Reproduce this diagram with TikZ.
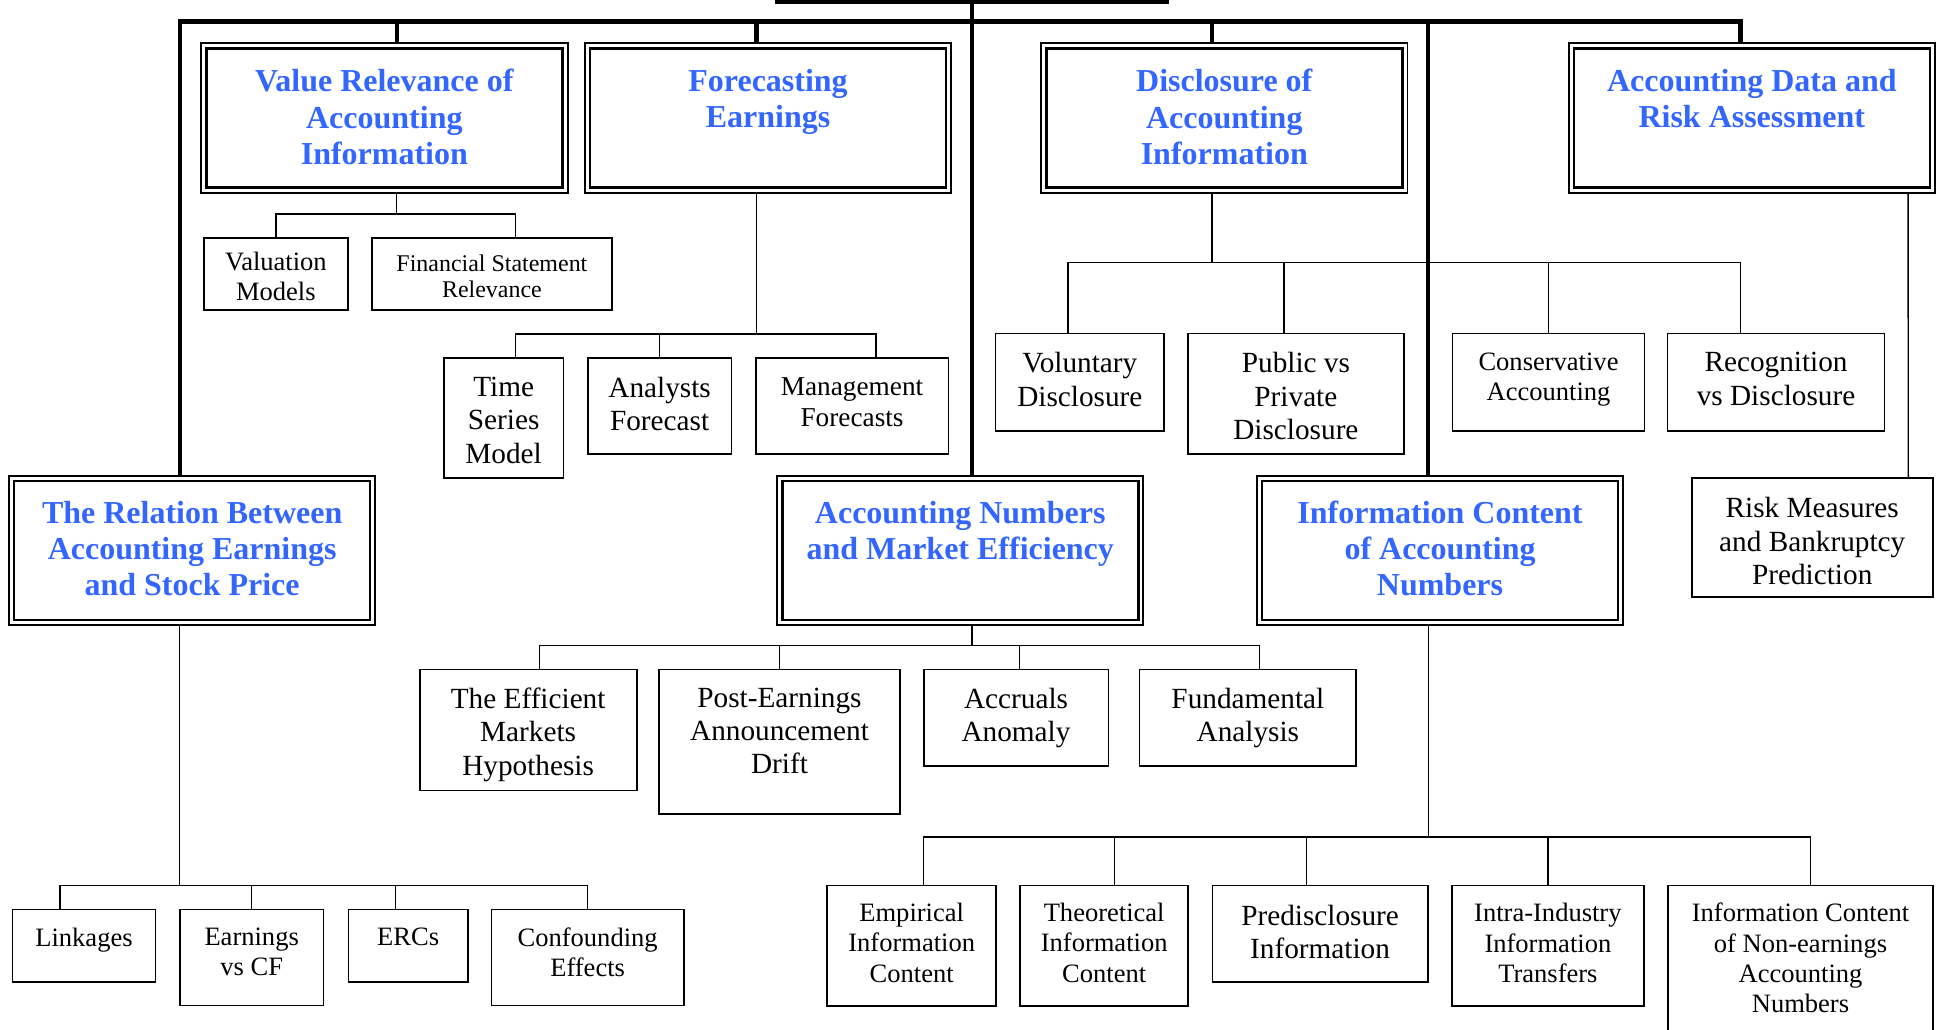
\documentclass[tikz,border=0pt]{standalone}
\usepackage{fontspec}
\setmainfont{Liberation Serif}
\usepackage{tikz}
\usetikzlibrary{positioning}

\definecolor{topicblue}{RGB}{51,102,255}

\tikzset{
  trunk/.style={line width=1.8pt},
  link/.style={line width=0.55pt},
  topic/.style={draw, line width=0.8pt, inner sep=0pt,
    minimum width=147.75pt, minimum height=60.25pt,
    path picture={\draw[line width=1.05pt]
      ([shift={(2.1pt,-2.1pt)}]path picture bounding box.north west) rectangle
      ([shift={(-2.1pt,2.1pt)}]path picture bounding box.south east);}},
  topictext/.style={inner sep=0pt, align=center, text=topicblue,
    font=\bfseries\fontsize{12.9}{14.65}\selectfont},
  leaf/.style 2 args={draw, line width=0.7pt, inner sep=0pt,
    minimum width=#1, minimum height=#2},
  bigtext/.style={inner sep=0pt, align=center, font=\fontsize{11.8}{13.45}\selectfont},
  midtext/.style={inner sep=0pt, align=center, font=\fontsize{10.7}{12.25}\selectfont},
  smalltext/.style={inner sep=0pt, align=center, font=\fontsize{9.66}{10.6}\selectfont},
}

\begin{document}
\begin{tikzpicture}[x=0.5pt,y=-0.5pt]
  \useasboundingbox (0,0) rectangle (1568,830);
  \clip (0,0) rectangle (1568,830);
  %%
  % Node: vr
  \node[topic] (vr) at (310,95.25) {};
  \node[topictext, below=10.6pt of vr.north] (vr-t) {Value Relevance of\\Accounting\\Information};
  % Node: fe
  \node[topic] (fe) at (619.5,95.25) {};
  \node[topictext, below=10.6pt of fe.north] (fe-t) {Forecasting\\Earnings};
  % Node: di
  \node[topic] (di) at (987.5,95.25) {};
  \node[topictext, below=10.6pt of di.north] (di-t) {Disclosure of\\Accounting\\Information};
  % Node: ad
  \node[topic] (ad) at (1413,95.25) {};
  \node[topictext, below=10.6pt of ad.north] (ad-t) {Accounting Data and\\Risk Assessment};
  % Node: rb
  \node[topic] (rb) at (155,444) {};
  \node[topictext, below=10.3pt of rb.north] (rb-t) {The Relation Between\\Accounting Earnings\\and Stock Price};
  % Node: am
  \node[topic] (am) at (774.5,444) {};
  \node[topictext, below=10.3pt of am.north] (am-t) {Accounting Numbers\\and Market Efficiency};
  % Node: ic
  \node[topic] (ic) at (1161.5,444) {};
  \node[topictext, below=10.3pt of ic.north] (ic-t) {Information Content\\of Accounting\\Numbers};
  %%
  % Node: val
  \node[leaf={58pt}{29.15pt}] (val) at (222.5,220.85) {};
  \node[midtext, below=6pt of val.north] (val-t) {Valuation\\Models};
  % Node: fsr
  \node[leaf={96.75pt}{29.15pt}] (fsr) at (396.75,220.85) {};
  \node[smalltext, below=7pt of fsr.north] (fsr-t) {Financial Statement\\Relevance};
  % Node: tsm
  \node[leaf={48.25pt}{48.25pt}] (tsm) at (406.25,337.05) {};
  \node[bigtext, below=7.9pt of tsm.north] (tsm-t) {Time\\Series\\Model};
  % Node: af
  \node[leaf={58pt}{38.7pt}] (af) at (532,327.5) {};
  \node[bigtext, below=7.9pt of af.north] (af-t) {Analysts\\Forecast};
  % Node: mf
  \node[leaf={77.75pt}{38.7pt}] (mf) at (687.25,327.5) {};
  \node[bigtext, font=\fontsize{11}{12.5}\selectfont, below=8.2pt of mf.north] (mf-t) {Management\\Forecasts};
  % Node: vd
  \node[leaf={68pt}{39.25pt}] (vd) at (871,308.15) {};
  \node[bigtext, below=7.9pt of vd.north] (vd-t) {Voluntary\\Disclosure};
  % Node: ppd
  \node[leaf={87.25pt}{48.65pt}] (ppd) at (1045.25,317.55) {};
  \node[bigtext, below=7.9pt of ppd.north] (ppd-t) {Public vs\\Private\\Disclosure};
  % Node: ca
  \node[leaf={77.5pt}{39.25pt}] (ca) at (1249,308.15) {};
  \node[midtext, below=7.9pt of ca.north] (ca-t) {Conservative\\Accounting};
  % Node: rvd
  \node[leaf={87.5pt}{39.25pt}] (rvd) at (1432.5,308.15) {};
  \node[bigtext, below=7.9pt of rvd.north] (rvd-t) {Recognition\\vs Disclosure};
  % Node: rbp
  \node[leaf={97.2pt}{48pt}] (rbp) at (1461.7,433.8) {};
  \node[bigtext, below=7.9pt of rbp.north] (rbp-t) {Risk Measures\\and Bankruptcy\\Prediction};
  % Node: emh
  \node[leaf={87.5pt}{48.85pt}] (emh) at (426,588.85) {};
  \node[bigtext, below=7.5pt of emh.north] (emh-t) {The Efficient\\Markets\\Hypothesis};
  % Node: ped
  \node[leaf={97.25pt}{58.35pt}] (ped) at (628.75,598.35) {};
  \node[bigtext, below=7.5pt of ped.north] (ped-t) {Post-Earnings\\Announcement\\Drift};
  % Node: aa
  \node[leaf={74.5pt}{39pt}] (aa) at (819.5,579) {};
  \node[bigtext, below=7.5pt of aa.north] (aa-t) {Accruals\\Anomaly};
  % Node: fa
  \node[leaf={87.5pt}{39pt}] (fa) at (1006.5,579) {};
  \node[bigtext, below=7.5pt of fa.north] (fa-t) {Fundamental\\Analysis};
  % Node: lk
  \node[leaf={57.75pt}{29.2pt}] (lk) at (67.75,762.8) {};
  \node[midtext, below=7.5pt of lk.north] (lk-t) {Linkages};
  % Node: evc
  \node[leaf={58pt}{38.7pt}] (evc) at (203,772.3) {};
  \node[midtext, below=7.5pt of evc.north] (evc-t) {Earnings\\vs CF};
  % Node: erc
  \node[leaf={48.25pt}{29.2pt}] (erc) at (329.25,762.8) {};
  \node[midtext, below=7.5pt of erc.north] (erc-t) {ERCs};
  % Node: cfe
  \node[leaf={77.5pt}{38.7pt}] (cfe) at (474,772.3) {};
  \node[midtext, below=7.5pt of cfe.north] (cfe-t) {Confounding\\Effects};
  % Node: eic
  \node[leaf={68.05pt}{48.55pt}] (eic) at (735.35,762.85) {};
  \node[midtext, below=7.2pt of eic.north] (eic-t) {Empirical\\Information\\Content};
  % Node: tic
  \node[leaf={67.9pt}{48.55pt}] (tic) at (890.6,762.85) {};
  \node[midtext, below=7.2pt of tic.north] (tic-t) {Theoretical\\Information\\Content};
  % Node: pdi
  \node[leaf={86.75pt}{38.85pt}] (pdi) at (1064.75,753.15) {};
  \node[bigtext, below=7.9pt of pdi.north] (pdi-t) {Predisclosure\\Information};
  % Node: iit
  \node[leaf={77.5pt}{48.55pt}] (iit) at (1248.5,762.85) {};
  \node[midtext, below=7.4pt of iit.north] (iit-t) {Intra-Industry\\Information\\Transfers};
  % Node: inc
  \node[leaf={106.65pt}{67.7pt}] (inc) at (1452.25,782) {};
  \node[midtext, below=7.2pt of inc.north] (inc-t) {Information Content\\of Non-earnings\\Accounting\\Numbers};
  %%
  \coordinate (rootl) at (625,1.5);
  \coordinate (rootr) at (943,1.5);
  \coordinate (root) at (784,1.5);
  \coordinate (bus) at (0,17.5);
  % Edge: root -> am
  \draw[trunk] (rootl) -- (rootr);
  \draw[trunk] (root) -- ([xshift=4.75pt]am.north);
  % Edge: bus -> rb, vr, fe, di, ic, ad
  \draw[trunk] ([xshift=-5pt]rb.north) -- ([xshift=-5pt]rb.north |- bus) -- ([xshift=-4.5pt]ad.north |- bus) -- ([xshift=-4.5pt]ad.north);
  \draw[trunk] ([xshift=5pt]vr.north) -- ([xshift=5pt]vr.north |- bus);
  \draw[trunk] ([xshift=-4.75pt]fe.north) -- ([xshift=-4.75pt]fe.north |- bus);
  \draw[trunk] ([xshift=-5pt]di.north) -- ([xshift=-5pt]di.north |- bus);
  \draw[trunk] ([xshift=-4.75pt]ic.north) -- ([xshift=-4.75pt]ic.north |- bus);
  %%
  \coordinate (vrbus) at (0,172.6);
  % Edge: vr -> val, fsr
  \draw[link] ([xshift=5pt]vr.south) -- ([xshift=5pt]vr.south |- vrbus);
  \draw[link] (val.north) -- (val.north |- vrbus) -- ([xshift=9.6pt]fsr.north |- vrbus) -- ([xshift=9.6pt]fsr.north);
  %%
  \coordinate (febus) at (0,269.4);
  % Edge: fe -> tsm, af, mf
  \draw[link] ([xshift=-4.75pt]fe.south) -- ([xshift=-4.75pt]fe.south |- febus);
  \draw[link] ([xshift=4.875pt]tsm.north) -- ([xshift=4.875pt]tsm.north |- febus) -- ([xshift=9.625pt]mf.north |- febus) -- ([xshift=9.625pt]mf.north);
  \draw[link] (af.north) -- (af.north |- febus);
  %%
  \coordinate (dibus) at (0,211.6);
  % Edge: di -> vd, ppd, ca, rvd
  \draw[link] ([xshift=-5pt]di.south) -- ([xshift=-5pt]di.south |- dibus);
  \draw[link] ([xshift=-4.75pt]vd.north) -- ([xshift=-4.75pt]vd.north |- dibus) -- ([xshift=-14.25pt]rvd.north |- dibus) -- ([xshift=-14.25pt]rvd.north);
  \draw[link] ([xshift=-4.875pt]ppd.north) -- ([xshift=-4.875pt]ppd.north |- dibus);
  \draw[link] (ca.north) -- (ca.north |- dibus);
  %%
  % Edge: ad -> rbp
  \draw[link] ([xshift=63pt]ad.south) -- ([xshift=38.75pt]rbp.north);
  %%
  \coordinate (ambus) at (0,520.8);
  % Edge: am -> emh, ped, aa, fa
  \draw[link] ([xshift=4.75pt]am.south) -- ([xshift=4.75pt]am.south |- ambus);
  \draw[link] ([xshift=4.5pt]emh.north) -- ([xshift=4.5pt]emh.north |- ambus) -- ([xshift=4.75pt]fa.north |- ambus) -- ([xshift=4.75pt]fa.north);
  \draw[link] (ped.north) -- (ped.north |- ambus);
  \draw[link] ([xshift=1.5pt]aa.north) -- ([xshift=1.5pt]aa.north |- ambus);
  %%
  \coordinate (rbbus) at (0,714);
  % Edge: rb -> lk, evc, erc, cfe
  \draw[link] ([xshift=-5pt]rb.south) -- ([xshift=-5pt]rb.south |- rbbus);
  \draw[link] ([xshift=-9.625pt]lk.north) -- ([xshift=-9.625pt]lk.north |- rbbus) -- (cfe.north |- rbbus) -- (cfe.north);
  \draw[link] (evc.north) -- (evc.north |- rbbus);
  \draw[link] ([xshift=-5.125pt]erc.north) -- ([xshift=-5.125pt]erc.north |- rbbus);
  %%
  \coordinate (icbus) at (0,675.2);
  % Edge: ic -> eic, tic, pdi, iit, inc
  \draw[link] ([xshift=-4.75pt]ic.south) -- ([xshift=-4.75pt]ic.south |- icbus);
  \draw[link] ([xshift=4.825pt]eic.north) -- ([xshift=4.825pt]eic.north |- icbus) -- ([xshift=4.15pt]inc.north |- icbus) -- ([xshift=4.15pt]inc.north);
  \draw[link] ([xshift=4.2pt]tic.north) -- ([xshift=4.2pt]tic.north |- icbus);
  \draw[link] ([xshift=-5.375pt]pdi.north) -- ([xshift=-5.375pt]pdi.north |- icbus);
  \draw[link] (iit.north) -- (iit.north |- icbus);
  %
\end{tikzpicture}
\end{document}
